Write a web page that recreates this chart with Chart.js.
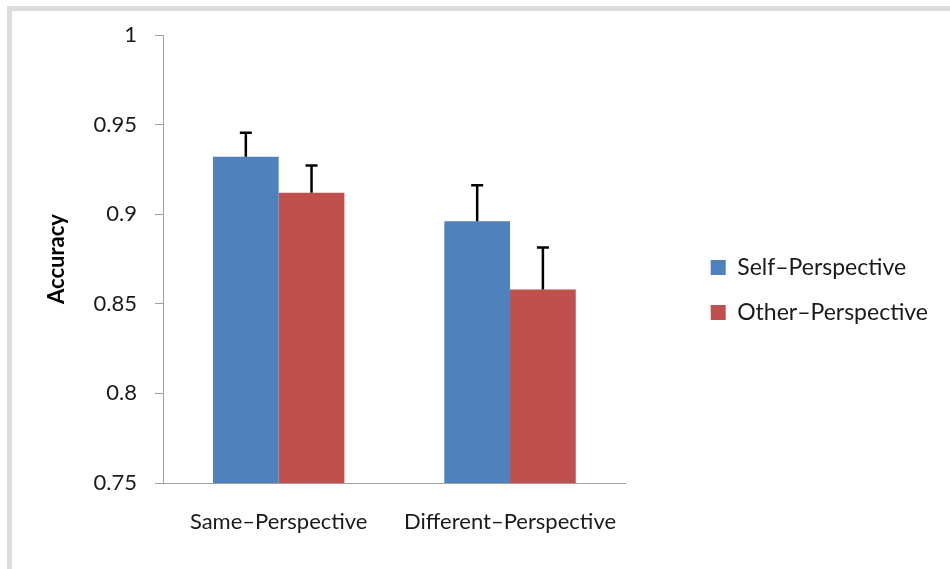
<!DOCTYPE html>
<html>
<head>
<meta charset="utf-8">
<script src="https://cdn.jsdelivr.net/npm/chart.js@4.4.1/dist/chart.umd.min.js"></script>
<style>
  html, body { margin: 0; padding: 0; background: #fff; }
  #wrap { position: relative; width: 950px; height: 569px; overflow: hidden; }
  #frame { position: absolute; left: 7px; top: 6px; width: 943px; height: 563px;
           border-top: 5px solid #dcdcdc; border-left: 5px solid #dcdcdc; pointer-events: none; }
  canvas { position: absolute; left: 0; top: 0; }
</style>
</head>
<body>
<div id="wrap">
  <canvas id="chart" width="950" height="569"></canvas>
  <div id="frame"></div>
</div>
<script>
// Conditions on the x axis
const categories = ['Same\u2013Perspective', 'Different\u2013Perspective'];
// Mean accuracy per condition
const selfValues = [0.932, 0.896];
const otherValues = [0.912, 0.858];
// Upper error bar lengths
const selfErrors = [0.0134, 0.0202];
const otherErrors = [0.0152, 0.0234];
// Y axis ticks
const yTicks = [0.75, 0.8, 0.85, 0.9, 0.95, 1];

const FONT = 'Lato, "Open Sans", sans-serif';

// Draws the upward error bars with a cap on top of each bar
const errorBars = {
  id: 'errorBars',
  afterDatasetsDraw(chart) {
    const ctx = chart.ctx;
    const y = chart.scales.y;
    chart.data.datasets.forEach((ds, di) => {
      const meta = chart.getDatasetMeta(di);
      meta.data.forEach((bar, i) => {
        const top = y.getPixelForValue(ds.data[i] + ds.errors[i]);
        ctx.save();
        ctx.strokeStyle = '#000';
        ctx.lineWidth = 2.5;
        ctx.beginPath();
        ctx.moveTo(bar.x, bar.y);
        ctx.lineTo(bar.x, top);
        ctx.moveTo(bar.x - 6, top);
        ctx.lineTo(bar.x + 6, top);
        ctx.stroke();
        ctx.restore();
      });
    });
  }
};

new Chart(document.getElementById('chart'), {
  type: 'bar',
  data: {
    labels: categories,
    datasets: [
      { label: 'Self\u2013Perspective', data: selfValues, errors: selfErrors,
        backgroundColor: '#4f81bd', borderWidth: 0, yAxisID: 'y' },
      { label: 'Other\u2013Perspective', data: otherValues, errors: otherErrors,
        backgroundColor: '#c0504d', borderWidth: 0, yAxisID: 'y' }
    ]
  },
  options: {
    responsive: false,
    animation: false,
    layout: { padding: { top: 35, bottom: 24, left: 0, right: 12 } },
    datasets: { bar: { categoryPercentage: 0.568, barPercentage: 1.0 } },
    plugins: {
      tooltip: { enabled: false },
      legend: {
        position: 'right',
        maxWidth: 400,
        labels: {
          boxWidth: 15, boxHeight: 15, padding: 22,
          color: '#1a1a1a',
          font: { family: FONT, size: 23 }
        }
      }
    },
    scales: {
      x: {
        grid: { display: false, drawTicks: false },
        border: { display: true, color: '#a0a0a0', width: 1 },
        ticks: { color: '#1a1a1a', padding: 26, font: { family: FONT, size: 22 } },
        afterFit(s) { s.height = 62; }
      },
      y: {
        min: 0.75, max: 1,
        afterBuildTicks(s) { s.ticks = yTicks.map(v => ({ value: v })); },
        grid: { display: true, drawOnChartArea: false, drawTicks: true, tickLength: 8, color: '#a0a0a0' },
        border: { display: true, color: '#a0a0a0', width: 1 },
        ticks: { color: '#1a1a1a', padding: 18, font: { family: FONT, size: 22 },
                 callback: v => String(v) },
        title: { display: true, text: 'Accuracy', color: '#000',
                 padding: { top: 44 }, font: { family: FONT, size: 22, weight: 'bold' } },
        afterFit(s) { s.width = 163; }
      },
      // empty spacer between the plot and the legend
      gap: {
        position: 'right', display: true,
        grid: { display: false, drawTicks: false },
        border: { display: false },
        ticks: { display: false },
        afterFit(s) { s.width = 63; }
      }
    }
  },
  plugins: [errorBars]
});
</script>
</body>
</html>
